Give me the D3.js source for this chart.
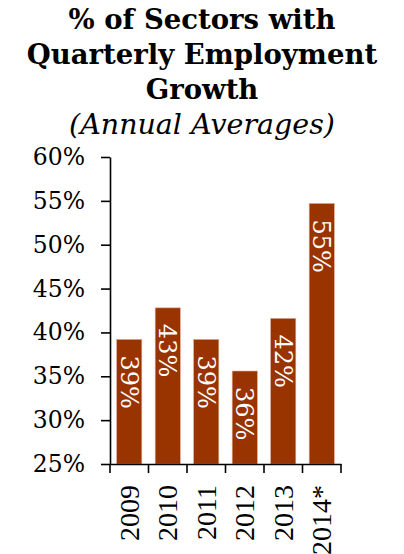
<!DOCTYPE html>
<html>
<head>
<meta charset="utf-8">
<script src="https://cdn.jsdelivr.net/npm/d3@7/dist/d3.min.js"></script>
<style>
  html, body { margin: 0; padding: 0; background: #fff; }
  svg { display: block; }
</style>
</head>
<body>
<svg id="chart" width="404" height="554"></svg>
<script>
// Share of sectors with quarterly employment growth, annual averages
const years = ["2009", "2010", "2011", "2012", "2013", "2014*"];
const shares = [0.392, 0.428, 0.392, 0.356, 0.416, 0.547];
const yTicks = [0.25, 0.30, 0.35, 0.40, 0.45, 0.50, 0.55, 0.60];
const titleLines = ["% of Sectors with", "Quarterly Employment", "Growth"];
const subtitle = "(Annual Averages)";

const W = 404, H = 554;
const plot = { left: 110, right: 341, top: 157, bottom: 464 };
const barColor = "#993300";
const serif = "'DejaVu Serif', serif";

const svg = d3.select("#chart");

// Title block
const title = svg.append("text")
  .attr("text-anchor", "middle")
  .attr("font-family", serif)
  .attr("font-weight", "bold")
  .attr("font-size", 27.5)
  .attr("fill", "#000");
titleLines.forEach((t, i) => {
  title.append("tspan").attr("x", W / 2).attr("y", [29, 64, 99][i]).text(t);
});
svg.append("text")
  .attr("x", W / 2).attr("y", 134)
  .attr("text-anchor", "middle")
  .attr("font-family", serif)
  .attr("font-style", "italic")
  .attr("font-size", 28.5)
  .attr("fill", "#000")
  .text(subtitle);

// Scales
const pad = 0.348;
const x = d3.scaleBand()
  .domain(years)
  .range([plot.left, plot.right])
  .paddingInner(pad)
  .paddingOuter(pad / 2);
const y = d3.scaleLinear()
  .domain([0.25, 0.60])
  .range([plot.bottom, plot.top]);

// Bars
svg.append("g")
  .selectAll("rect")
  .data(years)
  .join("rect")
  .attr("x", d => x(d))
  .attr("y", (d, i) => y(shares[i]))
  .attr("width", x.bandwidth())
  .attr("height", (d, i) => y(0.25) - y(shares[i]))
  .attr("fill", barColor)
  .attr("stroke", "#d9a68e")
  .attr("stroke-width", 0.6);

// Value labels, rotated to read downward inside each bar
const fmt = d3.format(".0%");
svg.append("g")
  .selectAll("text")
  .data(years)
  .join("text")
  .attr("transform", (d, i) => `translate(${x(d) + x.bandwidth() / 2},${y(shares[i]) + 16}) rotate(90)`)
  .attr("dy", "0.36em")
  .attr("text-anchor", "start")
  .attr("font-family", serif)
  .attr("font-size", 24)
  .attr("fill", "#fff")
  .text((d, i) => fmt(shares[i]));

// Y axis
const yAxis = svg.append("g")
  .attr("transform", `translate(${plot.left},0)`)
  .call(d3.axisLeft(y).tickValues(yTicks).tickFormat(fmt).tickSize(9).tickSizeOuter(0).tickPadding(16));
yAxis.selectAll("text")
  .attr("font-family", serif)
  .attr("font-size", 23.5)
  .attr("fill", "#000");

// X axis: baseline with ticks between categories
const xAxis = svg.append("g")
  .attr("transform", `translate(0,${plot.bottom})`)
  .call(d3.axisBottom(x).tickSize(0).tickSizeOuter(0).tickPadding(0));
xAxis.selectAll(".tick text").remove();
const edges = years.map(d => x(d) - x.step() * pad / 2).concat([x(years[years.length - 1]) + x.bandwidth() + x.step() * pad / 2]);
xAxis.selectAll("line.sep")
  .data(edges)
  .join("line")
  .attr("class", "sep")
  .attr("x1", d => d).attr("x2", d => d)
  .attr("y1", 0).attr("y2", 9)
  .attr("stroke", "#000");

svg.selectAll(".domain, .tick line, line.sep")
  .attr("stroke", "#000")
  .attr("stroke-width", 1.6);

// Category labels, reading upward below the axis
svg.append("g")
  .selectAll("text")
  .data(years)
  .join("text")
  .attr("transform", d => `translate(${x(d) + x.bandwidth() / 2},${plot.bottom + 21}) rotate(-90)`)
  .attr("dy", "0.34em")
  .attr("text-anchor", "end")
  .attr("font-family", "'Liberation Serif', serif")
  .attr("font-size", 28)
  .attr("fill", "#000")
  .text(d => d);
</script>
</body>
</html>
